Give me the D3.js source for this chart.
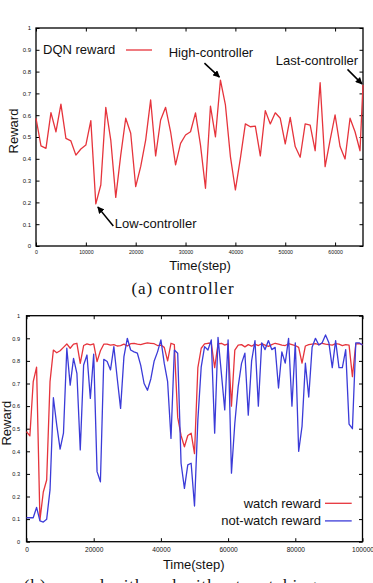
<!DOCTYPE html>
<html>
<head>
<meta charset="utf-8">
<script src="https://cdn.jsdelivr.net/npm/d3@7"></script>
<style>
body{margin:0;background:#fff;}
svg text{font-family:"Liberation Sans",Arial,sans-serif;fill:#111;}
</style>
</head>
<body>
<div id="chart"></div>
<script>
// (a) controller
const ctrlSteps = d3.range(0, 66000, 1000).concat([65600]);
const ctrlReward = [0.586,0.459,0.448,0.612,0.524,0.651,0.494,0.482,0.417,0.445,
  0.463,0.575,0.193,0.28,0.636,0.486,0.223,0.417,0.586,0.517,
  0.272,0.364,0.486,0.67,0.413,0.578,0.636,0.524,0.372,0.471,
  0.509,0.524,0.611,0.463,0.265,0.642,0.501,0.761,0.647,0.41,
  0.257,0.402,0.56,0.547,0.55,0.413,0.621,0.56,0.611,0.586,
  0.468,0.59,0.456,0.407,0.56,0.555,0.437,0.749,0.364,0.486,
  0.601,0.456,0.399,0.586,0.524,0.437,0.739];
const ctrlXTicks = [0,10000,20000,30000,40000,50000,60000];

// (b) watch / not-watch
const watchSteps = d3.range(0, 101000, 1000);
const watchReward = [0.487,0.468,0.708,0.772,0.096,0.22,0.273,0.708,0.848,0.836,
  0.845,0.86,0.875,0.856,0.874,0.878,0.789,0.868,0.875,0.871,
  0.875,0.797,0.845,0.874,0.874,0.870,0.872,0.866,0.868,0.874,
  0.866,0.876,0.878,0.874,0.872,0.876,0.880,0.878,0.876,0.868,
  0.870,0.860,0.80,0.878,0.872,0.55,0.47,0.42,0.47,0.48,
  0.39,0.77,0.856,0.875,0.878,0.878,0.77,0.875,0.878,0.87,
  0.875,0.60,0.848,0.87,0.872,0.862,0.872,0.865,0.874,0.868,
  0.876,0.870,0.864,0.872,0.878,0.874,0.870,0.868,0.876,0.872,
  0.868,0.86,0.79,0.866,0.872,0.874,0.876,0.872,0.878,0.874,
  0.872,0.870,0.876,0.874,0.868,0.872,0.870,0.73,0.875,0.876,
  0.872];
const notWatchReward = [0.106,0.106,0.106,0.152,0.092,0.087,0.099,0.229,0.637,0.516,
  0.41,0.48,0.856,0.693,0.811,0.745,0.406,0.782,0.826,0.634,
  0.83,0.31,0.265,0.807,0.797,0.76,0.863,0.723,0.59,0.819,
  0.9,0.848,0.84,0.834,0.78,0.70,0.67,0.72,0.80,0.84,
  0.893,0.789,0.708,0.457,0.848,0.834,0.347,0.236,0.34,0.347,
  0.158,0.539,0.774,0.863,0.848,0.893,0.48,0.904,0.745,0.583,
  0.893,0.303,0.524,0.686,0.789,0.834,0.56,0.80,0.89,0.60,
  0.88,0.85,0.89,0.85,0.86,0.68,0.84,0.79,0.90,0.60,
  0.88,0.40,0.51,0.79,0.64,0.86,0.90,0.87,0.88,0.915,
  0.88,0.77,0.89,0.77,0.77,0.85,0.52,0.50,0.88,0.88,
  0.87];
const watchXTicks = [0,20000,40000,60000,80000,100000];

const yTicks = [0,0.1,0.2,0.3,0.4,0.5,0.6,0.7,0.8,0.9,1];
const yTickLabels = ["0","0.1","0.2","0.3","0.4","0.5","0.6","0.7","0.8","0.9","1"];

const RED = "#e6343c", BLUE = "#3b3bd8";

const svg = d3.select("#chart").append("svg")
  .attr("width", 373).attr("height", 583);

const defs = svg.append("defs");
defs.append("marker")
  .attr("id", "arrow")
  .attr("viewBox", "0 0 10 10")
  .attr("refX", 9).attr("refY", 5)
  .attr("markerWidth", 7).attr("markerHeight", 7)
  .attr("markerUnits", "userSpaceOnUse")
  .attr("orient", "auto")
  .append("path").attr("d", "M0,0L10,5L0,10z").attr("fill", "#000");

function panel(opt) {
  const g = svg.append("g").attr("transform", "translate(" + opt.left + "," + opt.top + ")");
  const x = d3.scaleLinear().domain([0, opt.xMax]).range([0, opt.width]);
  const y = d3.scaleLinear().domain([0, 1]).range([opt.height, 0]);

  // ticks, mirrored gnuplot style (pointing inward)
  const xb = g.append("g").attr("transform", "translate(0," + opt.height + ")")
    .call(d3.axisBottom(x).tickValues(opt.xTicks).tickSizeInner(-3.5).tickSizeOuter(0)
      .tickPadding(opt.xPad).tickFormat(d3.format("d")));
  xb.selectAll("text").style("font-size", opt.xFont + "px").attr("fill", "#222");
  g.append("g").call(d3.axisTop(x).tickValues(opt.xTicks).tickSizeInner(-3.5).tickSizeOuter(0).tickFormat(""));
  const yl = g.append("g")
    .call(d3.axisLeft(y).tickValues(yTicks).tickSizeInner(-3.5).tickSizeOuter(0)
      .tickPadding(opt.yPad).tickFormat((d, i) => yTickLabels[i]));
  yl.selectAll("text").style("font-size", opt.yFont + "px").attr("fill", "#222");
  g.append("g").attr("transform", "translate(" + opt.width + ",0)")
    .call(d3.axisRight(y).tickValues(yTicks).tickSizeInner(-3.5).tickSizeOuter(0).tickFormat(""));
  g.selectAll(".domain").remove();
  g.selectAll(".tick line").attr("stroke", "#000").attr("stroke-width", 1);

  g.append("rect").attr("width", opt.width).attr("height", opt.height)
    .attr("fill", "none").attr("stroke", "#000").attr("stroke-width", 1.3);

  const line = d3.line().x(d => x(d[0])).y(d => y(d[1]));
  opt.series.forEach(s => {
    g.append("path")
      .datum(d3.zip(s.steps, s.values))
      .attr("fill", "none")
      .attr("stroke", s.color)
      .attr("stroke-width", 1.3)
      .attr("stroke-linejoin", "round")
      .attr("d", line);
  });

  // axis titles
  g.append("text")
    .attr("transform", "translate(" + opt.yLabelX + "," + (opt.height / 2 + opt.yLabelDy) + ")rotate(-90)")
    .attr("text-anchor", "middle").attr("dy", "0.35em")
    .style("font-size", "13px").text("Reward");
  g.append("text")
    .attr("x", opt.width / 2 + opt.xLabelDx).attr("y", opt.height + opt.xLabelDy)
    .attr("text-anchor", "middle")
    .style("font-size", "13px").text("Time(step)");

  return {g, x, y};
}

// ---- (a) controller ----
const a = panel({
  left: 36, top: 28, width: 327, height: 218, xMax: 65600,
  xTicks: ctrlXTicks, xPad: 4.5, yPad: 5, xFont: 5.2, yFont: 6,
  yLabelX: -23, yLabelDy: -6, xLabelDx: 0.5, xLabelDy: 23.5,
  series: [{steps: ctrlSteps, values: ctrlReward, color: RED}]
});

a.g.append("text").attr("x", 7).attr("y", 25.5).style("font-size", "13px").text("DQN reward");
a.g.append("line").attr("x1", 90).attr("x2", 116).attr("y1", 22).attr("y2", 22)
  .attr("stroke", RED).attr("stroke-width", 1.3);

const notes = [
  {label: "High-controller", at: [37000, 0.761], tip: [-1, -3], tail: [-16, -17], text: [-9.5, -23.5], anchor: "middle"},
  {label: "Last-controller", at: [65600, 0.739], tip: [-1, -1], tail: [-15.5, -15.5], text: [-46, -19.5], anchor: "middle"},
  {label: "Low-controller", at: [12000, 0.193], tip: [2, 3], tail: [17.5, 22], text: [19, 24], anchor: "start"}
];
notes.forEach(n => {
  const px = a.x(n.at[0]), py = a.y(n.at[1]);
  a.g.append("line")
    .attr("x1", px + n.tail[0]).attr("y1", py + n.tail[1])
    .attr("x2", px + n.tip[0]).attr("y2", py + n.tip[1])
    .attr("stroke", "#000").attr("stroke-width", 1.5)
    .attr("marker-end", "url(#arrow)");
  a.g.append("text")
    .attr("x", px + n.text[0]).attr("y", py + n.text[1])
    .attr("text-anchor", n.anchor)
    .style("font-size", "13px").text(n.label);
});

svg.append("text").attr("x", 183).attr("y", 294)
  .attr("text-anchor", "middle")
  .style("font-family", "'Liberation Serif','Times New Roman',serif")
  .style("font-size", "17px").style("letter-spacing", "1px")
  .text("(a) controller");

// ---- (b) ----
const b = panel({
  left: 26.5, top: 315.7, width: 336, height: 226, xMax: 100000,
  xTicks: watchXTicks, xPad: 6, yPad: 6.5, xFont: 6.6, yFont: 5.6,
  yLabelX: -20.5, yLabelDy: -5.5, xLabelDx: -0.8, xLabelDy: 27.8,
  series: [
    {steps: watchSteps, values: watchReward, color: RED},
    {steps: watchSteps, values: notWatchReward, color: BLUE}
  ]
});

const legendB = [{label: "watch reward", color: RED}, {label: "not-watch reward", color: BLUE}];
legendB.forEach((l, i) => {
  b.g.append("text").attr("x", 294.5).attr("y", 192 + i * 17.6)
    .attr("text-anchor", "end").style("font-size", "13px").text(l.label);
  b.g.append("line").attr("x1", 298.5).attr("x2", 325.2)
    .attr("y1", 187.6 + i * 17.6).attr("y2", 187.6 + i * 17.6)
    .attr("stroke", l.color).attr("stroke-width", 1.3);
});

svg.append("text").attr("x", 170.5).attr("y", 591)
  .attr("text-anchor", "middle")
  .style("font-family", "'Liberation Serif','Times New Roman',serif")
  .style("font-size", "17px").style("letter-spacing", "1px")
  .text("(b) reward with and without watching");
</script>
</body>
</html>
